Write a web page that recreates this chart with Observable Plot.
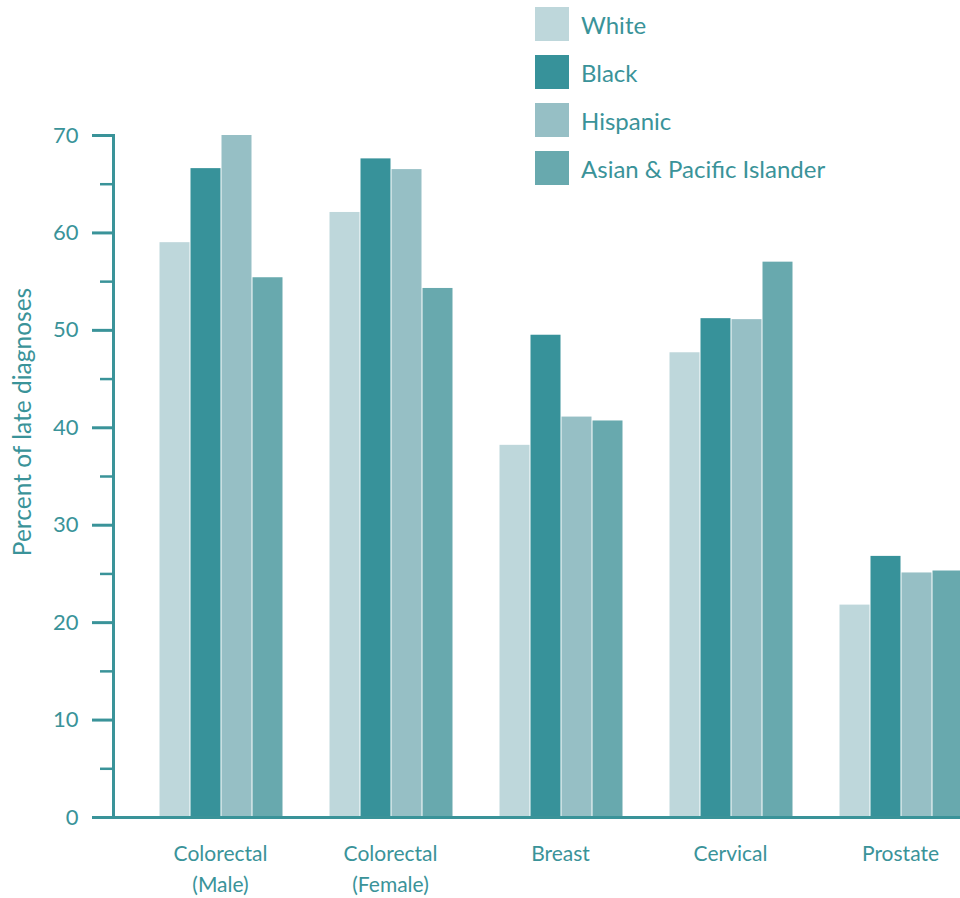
<!DOCTYPE html>
<html>
<head>
<meta charset="utf-8">
<script src="https://cdn.jsdelivr.net/npm/d3@7"></script>
<script src="https://cdn.jsdelivr.net/npm/@observablehq/plot@0.6"></script>
<style>
  html, body { margin: 0; padding: 0; background: #fff; overflow: hidden; }
  #chart { position: relative; width: 960px; height: 898px; overflow: hidden; font-family: Lato, sans-serif; color: #3a9399; }
  #chart svg { position: absolute; left: 0; top: 0; max-width: none !important; }
  .legend { position: absolute; left: 535px; top: 7px; }
  .legend .item { display: flex; align-items: center; height: 34px; margin-bottom: 14px; }
  .legend .sw { width: 34px; height: 34px; margin-right: 12px; }
  .legend .lab { font-size: 24px; }
  .ylabel { position: absolute; left: 0; top: 0; font-size: 24.5px; white-space: nowrap;
            transform-origin: 0 0; }
</style>
</head>
<body>
<div id="chart"></div>
<script>
// Share of cancers diagnosed at a late stage, by race/ethnicity
const categories = ["Colorectal\n(Male)", "Colorectal\n(Female)", "Breast", "Cervical", "Prostate"];
const races = ["White", "Black", "Hispanic", "Asian & Pacific Islander"];
const colors = ["#bed7db", "#37929a", "#96bfc5", "#68a9ae"];

const white    = [59.0, 62.1, 38.2, 47.7, 21.8];
const black    = [66.6, 67.6, 49.5, 51.2, 26.8];
const hispanic = [70.0, 66.5, 41.1, 51.1, 25.1];
const asian    = [55.4, 54.3, 40.7, 57.0, 25.3];

const majorTicks = [0, 10, 20, 30, 40, 50, 60, 70];
const minorTicks = [5, 15, 25, 35, 45, 55, 65];
const yLabel = "Percent of late diagnoses";

const teal = "#3a9399";
const series = [white, black, hispanic, asian];
const rows = categories.flatMap((c, i) =>
  races.map((r, j) => ({category: c, race: r, value: series[j][i]}))
);

const chart = Plot.plot({
  width: 963,
  height: 898,
  marginLeft: 113,
  marginRight: 0,
  marginTop: 135,
  marginBottom: 81,
  style: {fontFamily: "Lato, sans-serif", fontSize: "21px", color: teal, background: "transparent", maxWidth: "none"},
  fx: {domain: categories, padding: 0, label: null},
  x: {domain: races, paddingInner: 0, paddingOuter: 0.72, align: 1, axis: null},
  y: {domain: [0, 70], label: null},
  color: {domain: races, range: colors},
  marks: [
    Plot.barY(rows, {fx: "category", x: "race", y: "value", fill: "race", insetLeft: 0.5, insetRight: 0.5}),
    Plot.ruleY([0], {stroke: teal, strokeWidth: 3}),
    Plot.frame({anchor: "left", facetAnchor: "left", stroke: teal, strokeWidth: 3}),
    Plot.axisY({ticks: majorTicks, tickSize: 21, tickPadding: 14, strokeWidth: 3, fontSize: 22, label: null}),
    Plot.axisY({ticks: minorTicks, tickSize: 13, strokeWidth: 2.5, text: null, label: null}),
    Plot.axisFx({anchor: "bottom", tickSize: 0, tickPadding: 21, dx: 22, fontSize: 21, lineHeight: 1.48, label: null})
  ]
});
chart.style.maxWidth = "none";

const root = document.getElementById("chart");
root.appendChild(chart);

// Legend swatches
const legend = document.createElement("div");
legend.className = "legend";
races.forEach((r, j) => {
  const item = document.createElement("div");
  item.className = "item";
  const sw = document.createElement("div");
  sw.className = "sw";
  sw.style.background = colors[j];
  const lab = document.createElement("div");
  lab.className = "lab";
  lab.textContent = r;
  item.appendChild(sw);
  item.appendChild(lab);
  legend.appendChild(item);
});
root.appendChild(legend);

// Rotated y-axis title
const yl = document.createElement("div");
yl.className = "ylabel";
yl.textContent = yLabel;
root.appendChild(yl);
const w = yl.getBoundingClientRect().width;
const centerY = 422;
yl.style.transform = `translate(7px, ${centerY + w / 2}px) rotate(-90deg)`;
</script>
</body>
</html>
